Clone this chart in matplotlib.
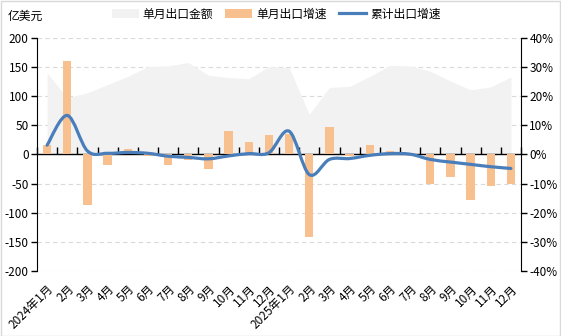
import matplotlib
matplotlib.use("Agg")
import matplotlib.pyplot as plt
from matplotlib.path import Path
from matplotlib.patches import PathPatch, Patch, Rectangle
from matplotlib.lines import Line2D

plt.rcParams['font.family'] = ['Noto Sans CJK SC', 'DejaVu Sans']

# data
months = ['2024年1月', '2月', '3月', '4月', '5月', '6月', '7月', '8月', '9月', '10月', '11月', '12月',
          '2025年1月', '2月', '3月', '4月', '5月', '6月', '7月', '8月', '9月', '10月', '11月', '12月']
# 单月出口金额 (亿美元)
export_amount = [140, 97, 106, 120, 134, 151, 152, 158, 136, 132, 130, 151,
                 149, 69, 115, 117, 134, 153, 152, 143, 126, 111, 116, 133]
# 单月出口增速 (%)
monthly_growth = [3.2, 32.0, -17.4, -3.6, 1.8, -0.6, -3.6, -2.0, -5.0, 8.0, 4.2, 6.6,
                  7.2, -28.4, 9.4, -0.6, 3.2, 1.2, 0.2, -10.0, -7.8, -15.6, -10.8, -10.2]
# 累计出口增速 (%)
cum_growth = [3.2, 13.4, 1.2, 0.4, 0.7, 0.4, -0.6, -1.0, -1.5, -0.5, 0.3, 0.6,
              8.0, -6.9, -1.7, -1.4, -0.3, 0.3, 0.1, -1.7, -2.6, -3.4, -4.2, -4.8]

left_ticks = [-200, -150, -100, -50, 0, 50, 100, 150, 200]
right_ticks = [-40, -30, -20, -10, 0, 10, 20, 30, 40]


def smooth_path(xs, ys):
    # bezier smoothing similar to Excel's smoothed line
    verts = [(xs[0], ys[0])]
    codes = [Path.MOVETO]
    n = len(xs)
    for i in range(n - 1):
        a = i - 1 if i > 0 else i
        d = i + 2 if i + 2 < n else i + 1
        c1 = (xs[i] + (xs[i + 1] - xs[a]) / 6, ys[i] + (ys[i + 1] - ys[a]) / 6)
        c2 = (xs[i + 1] - (xs[d] - xs[i]) / 6, ys[i + 1] - (ys[d] - ys[i]) / 6)
        verts += [c1, c2, (xs[i + 1], ys[i + 1])]
        codes += [Path.CURVE4] * 3
    return Path(verts, codes)


fig = plt.figure(figsize=(5.61, 3.36), dpi=100)
ax = fig.add_axes([0.066, 0.1935, 0.8627, 0.6935])
x = list(range(len(months)))

ax.fill_between(x, 0, export_amount, color='#F2F2F2', lw=0, zorder=2)
ax.set_xlim(-0.5, len(months) - 0.5)
ax.set_ylim(-200, 200)
ax.set_yticks(left_ticks)
ax.set_yticklabels([str(v) for v in left_ticks])
for v in left_ticks:
    if v != 0:
        ax.axhline(v, color='#D9D9D9', lw=0.8, ls=(0, (4, 3)), zorder=1)

ax.set_xticks(x)
ax.set_xticklabels(months, rotation=45, ha='right', rotation_mode='anchor', fontsize=8.5)
ax.tick_params(axis='x', length=0, pad=8)
ax.tick_params(axis='y', direction='out', length=4, width=1, color='black', labelsize=8.5, pad=2)
for s in ['top', 'right', 'bottom']:
    ax.spines[s].set_visible(False)
ax.spines['left'].set_color('black')

ax2 = ax.twinx()
ax2.bar(x, monthly_growth, width=0.41, color='#F8C08E', zorder=3)
ax2.add_patch(PathPatch(smooth_path(x, cum_growth), fill=False, edgecolor='#4A7EBB', lw=2.3,
                        capstyle='round', joinstyle='round', zorder=4))
ax2.set_ylim(-40, 40)
ax2.set_yticks(right_ticks)
ax2.set_yticklabels([f'{v}%' for v in right_ticks])
ax2.tick_params(axis='y', direction='out', length=4, width=1, color='black', labelsize=8.5, pad=2)
for s in ['top', 'left', 'bottom']:
    ax2.spines[s].set_visible(False)
ax2.spines['right'].set_color('black')

# category axis crossing at zero, tick marks pointing up
sec = ax.secondary_xaxis(0.5)
sec.set_zorder(5)
sec.set_xticks([i - 0.5 for i in range(len(months) + 1)])
sec.set_xticklabels([])
sec.tick_params(axis='x', which='both', direction='out', length=5, width=1, color='black',
                labelbottom=False, labeltop=False)
for s in sec.spines.values():
    s.set_color('black')
    s.set_linewidth(1)

fig.text(0.014, 0.95, '亿美元', fontsize=8.5, ha='left', va='center')

handles = [Patch(facecolor='#F2F2F2', edgecolor='none'),
           Patch(facecolor='#F8C08E', edgecolor='none'),
           Line2D([], [], color='#4A7EBB', lw=2.3)]
fig.legend(handles, ['单月出口金额', '单月出口增速', '累计出口增速'], loc='center', ncol=3,
           bbox_to_anchor=(0.492, 0.958), frameon=False, fontsize=8.5, handlelength=2.3,
           handleheight=0.7, columnspacing=1.0, handletextpad=0.35)

fig.add_artist(Rectangle((0.001, 0.001), 0.997, 0.996, transform=fig.transFigure,
                         fill=False, edgecolor='#D9D9D9', lw=1))

fig.savefig('out.png', dpi=100)
